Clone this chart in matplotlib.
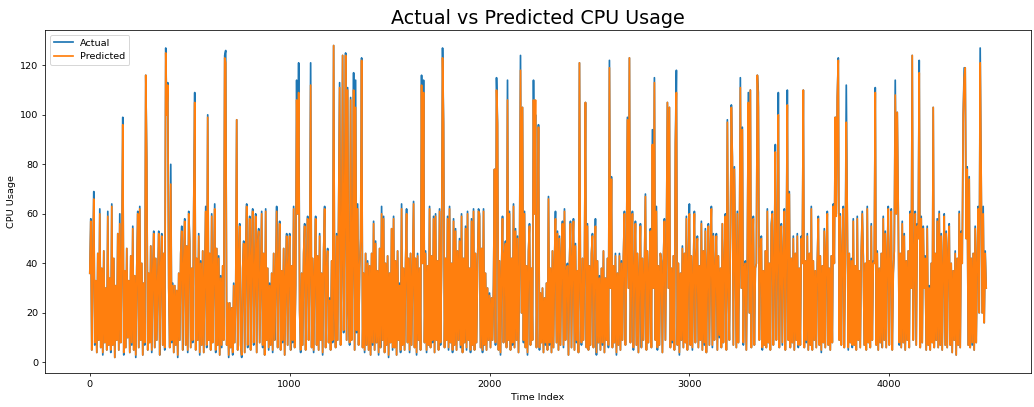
import matplotlib
matplotlib.use("Agg")
import matplotlib.pyplot as plt
import numpy as np

step = 5
actual = [
    36, 58, 5, 41, 69, 7, 33, 4, 44, 9, 62, 6, 38, 3, 45, 8, 30, 5, 61, 7,
    34, 4, 64, 7, 42, 2, 31, 9, 52, 5, 60, 8, 40, 99, 3, 37, 6, 46, 10, 33,
    4, 43, 7, 55, 5, 35, 2, 38, 61, 6, 63, 9, 40, 3, 32, 7, 116, 82, 5, 36,
    8, 47, 4, 36, 53, 6, 42, 9, 33, 53, 3, 39, 52, 7, 44, 5, 127, 100, 113, 30,
    6, 80, 8, 32, 4, 31, 7, 29, 2, 36, 9, 44, 55, 5, 40, 58, 7, 47, 4, 61,
    49, 6, 38, 8, 63, 109, 5, 42, 9, 52, 3, 41, 7, 45, 4, 35, 63, 6, 100, 9,
    44, 5, 60, 8, 37, 64, 4, 46, 7, 43, 3, 35, 6, 39, 9, 124, 126, 7, 24, 2,
    24, 6, 22, 3, 32, 8, 27, 98, 5, 42, 56, 7, 2, 38, 49, 4, 45, 64, 6, 39,
    59, 5, 43, 62, 7, 37, 60, 4, 48, 54, 8, 35, 61, 6, 44, 3, 62, 9, 38, 5,
    32, 7, 36, 4, 44, 9, 34, 63, 6, 41, 57, 5, 37, 8, 46, 3, 35, 52, 7, 40,
    52, 5, 39, 8, 63, 6, 31, 114, 60, 121, 21, 4, 36, 7, 44, 56, 5, 38, 59, 9,
    35, 121, 6, 42, 4, 37, 59, 7, 43, 5, 52, 9, 36, 3, 45, 63, 6, 38, 46, 8,
    26, 5, 41, 8, 128, 20, 6, 52, 9, 60, 113, 7, 40, 124, 12, 60, 125, 9, 111, 20,
    7, 107, 9, 40, 117, 5, 114, 12, 64, 7, 38, 50, 123, 6, 36, 4, 44, 7, 41, 5,
    39, 3, 44, 7, 57, 5, 49, 8, 37, 3, 46, 6, 63, 9, 59, 4, 40, 7, 43, 2,
    36, 8, 54, 5, 59, 6, 41, 3, 45, 9, 32, 4, 64, 7, 38, 5, 40, 62, 8, 42,
    4, 44, 7, 36, 65, 6, 42, 3, 44, 9, 38, 5, 116, 40, 114, 8, 45, 4, 39, 7,
    63, 6, 43, 8, 59, 4, 60, 9, 41, 5, 62, 7, 40, 127, 97, 6, 42, 9, 59, 5,
    63, 8, 40, 4, 58, 7, 54, 5, 45, 9, 50, 6, 60, 4, 42, 8, 55, 5, 61, 9,
    38, 4, 58, 7, 62, 5, 44, 8, 39, 62, 60, 6, 46, 4, 62, 7, 36, 5, 30, 9,
    28, 6, 26, 9, 32, 78, 7, 115, 97, 5, 41, 3, 37, 59, 8, 44, 49, 6, 114, 9,
    61, 5, 42, 7, 64, 6, 54, 9, 51, 4, 40, 124, 20, 103, 8, 61, 6, 39, 3, 45,
    56, 7, 38, 9, 114, 60, 100, 6, 42, 96, 5, 28, 8, 30, 4, 26, 7, 32, 5, 67,
    7, 38, 4, 45, 6, 40, 61, 8, 53, 5, 51, 7, 44, 57, 6, 62, 9, 37, 40, 3,
    40, 57, 6, 43, 58, 5, 48, 8, 37, 4, 121, 29, 7, 42, 9, 40, 105, 6, 56, 5,
    39, 7, 44, 52, 6, 37, 58, 3, 41, 8, 35, 5, 38, 7, 45, 4, 34, 9, 42, 6,
    122, 30, 75, 6, 39, 8, 44, 3, 36, 7, 44, 5, 41, 9, 43, 61, 7, 40, 99, 30,
    123, 8, 40, 61, 5, 37, 57, 7, 44, 4, 36, 56, 6, 42, 9, 39, 68, 5, 45, 8,
    38, 54, 6, 94, 30, 115, 9, 63, 5, 39, 7, 44, 41, 4, 41, 58, 9, 48, 105, 30,
    103, 6, 38, 8, 43, 5, 89, 118, 7, 40, 3, 36, 9, 47, 6, 44, 8, 59, 5, 40,
    64, 7, 43, 5, 38, 61, 8, 42, 51, 6, 39, 9, 57, 5, 45, 7, 54, 4, 37, 56,
    7, 44, 63, 6, 52, 9, 39, 52, 5, 43, 10, 38, 6, 56, 8, 40, 60, 5, 98, 30,
    9, 50, 104, 83, 7, 79, 42, 6, 61, 8, 39, 115, 30, 95, 7, 38, 41, 5, 44, 109,
    20, 110, 6, 42, 59, 7, 38, 40, 116, 109, 9, 44, 51, 5, 37, 7, 45, 6, 62, 8,
    40, 5, 56, 61, 7, 40, 88, 9, 43, 109, 6, 39, 56, 7, 44, 62, 5, 45, 110, 9,
    69, 6, 42, 8, 51, 5, 44, 9, 52, 6, 38, 7, 51, 40, 110, 6, 41, 8, 52, 5,
    44, 7, 63, 5, 41, 9, 37, 6, 40, 59, 7, 43, 4, 39, 8, 54, 6, 45, 61, 7,
    38, 5, 43, 8, 64, 40, 99, 60, 107, 123, 9, 60, 7, 44, 63, 6, 40, 112, 61, 5,
    44, 8, 42, 6, 58, 7, 39, 5, 59, 9, 37, 6, 45, 61, 43, 7, 40, 5, 63, 8,
    41, 6, 56, 9, 41, 40, 111, 7, 45, 5, 38, 8, 44, 6, 59, 9, 53, 6, 43, 63,
    7, 40, 62, 5, 36, 45, 114, 60, 101, 62, 7, 44, 6, 57, 8, 52, 5, 41, 9, 45,
    6, 61, 30, 124, 9, 40, 61, 7, 56, 50, 122, 6, 59, 8, 55, 30, 43, 5, 55, 7,
    31, 5, 40, 8, 103, 6, 44, 9, 58, 6, 61, 7, 52, 5, 40, 60, 7, 53, 6, 45,
    56, 7, 40, 4, 37, 9, 45, 3, 42, 7, 61, 6, 53, 40, 100, 119, 119, 50, 79, 7,
    75, 6, 42, 7, 44, 5, 55, 8, 40, 63, 20, 127, 76, 20, 63, 16, 45, 30,
]
predicted = [
    36, 57, 5, 41, 66, 8, 33, 4, 44, 9, 60, 6, 38, 4, 45, 8, 30, 5, 59, 7,
    34, 5, 63, 7, 42, 2, 31, 9, 52, 5, 56, 8, 40, 96, 4, 37, 6, 46, 10, 33,
    4, 43, 8, 54, 5, 35, 3, 38, 60, 6, 62, 9, 40, 3, 32, 8, 116, 82, 5, 36,
    8, 47, 5, 36, 52, 6, 42, 9, 33, 52, 3, 39, 51, 7, 44, 6, 125, 100, 112, 30,
    6, 72, 9, 31, 4, 31, 7, 29, 3, 36, 9, 44, 53, 5, 40, 57, 7, 47, 5, 60,
    48, 6, 38, 9, 62, 105, 5, 42, 9, 51, 4, 40, 7, 45, 4, 35, 61, 7, 99, 9,
    44, 5, 59, 8, 37, 62, 5, 46, 7, 42, 3, 34, 7, 39, 9, 123, 121, 7, 24, 3,
    24, 6, 22, 4, 31, 8, 27, 98, 5, 42, 55, 7, 3, 38, 48, 4, 45, 63, 7, 39,
    58, 5, 43, 61, 8, 37, 59, 4, 48, 53, 8, 35, 60, 7, 44, 3, 61, 9, 38, 6,
    31, 7, 36, 5, 44, 9, 34, 61, 6, 41, 56, 5, 37, 9, 46, 3, 35, 51, 7, 40,
    51, 5, 39, 9, 62, 6, 31, 106, 60, 109, 20, 5, 36, 7, 44, 55, 5, 38, 58, 9,
    35, 112, 6, 42, 5, 37, 58, 7, 43, 5, 51, 9, 36, 4, 45, 62, 6, 38, 45, 8,
    25, 5, 41, 9, 128, 21, 6, 51, 9, 60, 111, 7, 40, 124, 13, 60, 124, 9, 110, 20,
    8, 106, 9, 40, 110, 5, 103, 13, 62, 7, 38, 50, 122, 6, 36, 5, 44, 7, 40, 5,
    39, 3, 44, 8, 56, 5, 48, 8, 37, 4, 46, 6, 60, 9, 58, 4, 40, 7, 43, 3,
    36, 8, 54, 6, 58, 6, 41, 3, 45, 9, 31, 5, 62, 7, 38, 5, 40, 60, 8, 42,
    5, 44, 7, 36, 64, 6, 42, 4, 43, 9, 38, 5, 112, 40, 109, 8, 44, 5, 39, 7,
    62, 6, 43, 9, 58, 4, 59, 9, 41, 5, 61, 8, 40, 123, 96, 6, 42, 9, 58, 6,
    62, 8, 40, 5, 57, 7, 53, 5, 45, 9, 49, 7, 59, 4, 42, 8, 54, 6, 60, 9,
    38, 5, 57, 7, 61, 5, 44, 8, 39, 61, 59, 6, 46, 5, 61, 7, 36, 5, 30, 9,
    27, 6, 26, 9, 31, 78, 8, 110, 96, 5, 41, 4, 37, 58, 8, 44, 48, 6, 106, 9,
    60, 5, 42, 8, 63, 6, 53, 9, 50, 4, 40, 118, 20, 103, 9, 60, 6, 39, 4, 45,
    55, 7, 38, 9, 106, 60, 106, 6, 42, 95, 6, 28, 8, 30, 4, 26, 8, 32, 5, 66,
    8, 38, 4, 45, 6, 40, 58, 8, 52, 5, 50, 7, 44, 56, 7, 61, 9, 37, 39, 3,
    40, 56, 6, 43, 57, 5, 47, 9, 37, 4, 121, 29, 8, 42, 9, 40, 105, 6, 55, 5,
    39, 7, 44, 51, 6, 37, 55, 4, 41, 8, 34, 5, 38, 8, 45, 4, 34, 9, 42, 7,
    119, 30, 74, 6, 39, 8, 43, 4, 36, 7, 43, 5, 40, 9, 43, 60, 7, 40, 98, 30,
    123, 8, 40, 60, 6, 37, 56, 7, 44, 4, 36, 55, 6, 42, 9, 39, 67, 5, 45, 8,
    38, 53, 6, 88, 30, 113, 9, 61, 6, 39, 7, 44, 40, 4, 41, 57, 9, 47, 105, 30,
    103, 6, 38, 9, 43, 5, 88, 109, 7, 40, 4, 36, 9, 46, 6, 44, 8, 58, 5, 40,
    60, 7, 43, 6, 38, 60, 8, 42, 50, 6, 39, 9, 56, 5, 45, 8, 53, 4, 37, 55,
    7, 44, 62, 7, 51, 9, 39, 51, 5, 43, 11, 38, 6, 56, 8, 40, 59, 5, 97, 30,
    9, 50, 103, 82, 7, 78, 42, 6, 60, 8, 39, 111, 30, 94, 8, 38, 40, 5, 44, 105,
    20, 110, 6, 42, 58, 7, 38, 40, 116, 103, 9, 44, 50, 6, 37, 7, 45, 6, 61, 8,
    40, 5, 55, 60, 7, 40, 85, 9, 43, 100, 6, 39, 55, 8, 44, 61, 5, 45, 104, 9,
    68, 6, 42, 8, 50, 5, 44, 9, 51, 7, 38, 7, 50, 40, 110, 6, 41, 9, 51, 5,
    44, 7, 62, 5, 41, 9, 37, 6, 40, 58, 7, 43, 5, 39, 8, 53, 6, 45, 60, 7,
    38, 5, 43, 8, 63, 40, 99, 59, 107, 122, 9, 59, 7, 44, 62, 6, 40, 97, 60, 6,
    44, 8, 41, 7, 57, 7, 39, 5, 58, 9, 37, 6, 45, 60, 42, 7, 40, 5, 62, 8,
    41, 6, 55, 9, 40, 40, 109, 7, 44, 5, 38, 8, 44, 6, 58, 9, 52, 6, 43, 62,
    7, 40, 61, 5, 36, 45, 108, 60, 101, 61, 8, 44, 6, 56, 8, 51, 5, 41, 9, 45,
    6, 60, 30, 124, 9, 40, 60, 7, 55, 50, 117, 6, 58, 8, 54, 30, 42, 5, 54, 7,
    30, 5, 40, 8, 103, 6, 44, 9, 57, 6, 60, 7, 51, 5, 40, 59, 7, 52, 6, 45,
    55, 7, 40, 4, 37, 9, 44, 3, 42, 7, 60, 6, 52, 40, 100, 115, 119, 50, 78, 7,
    74, 6, 42, 8, 44, 5, 54, 8, 40, 62, 20, 121, 75, 20, 60, 16, 44, 30,
]

time_index = np.arange(len(actual)) * step

fig = plt.figure(figsize=(15, 5.905), dpi=1034 / 15)
ax = fig.add_axes([0.0435, 0.0835, 0.9536, 0.8428])
ax.plot(time_index, actual, label="Actual", color="#1f77b4", linewidth=1.8)
ax.plot(time_index[:len(predicted)], predicted, label="Predicted",
        color="#ff7f0e", linewidth=1.8)
ax.set_title("Actual vs Predicted CPU Usage", fontsize=20)
ax.set_xlabel("Time Index")
ax.set_ylabel("CPU Usage")
ax.legend(loc="upper left")
fig.savefig("out.png", dpi=1034 / 15)
